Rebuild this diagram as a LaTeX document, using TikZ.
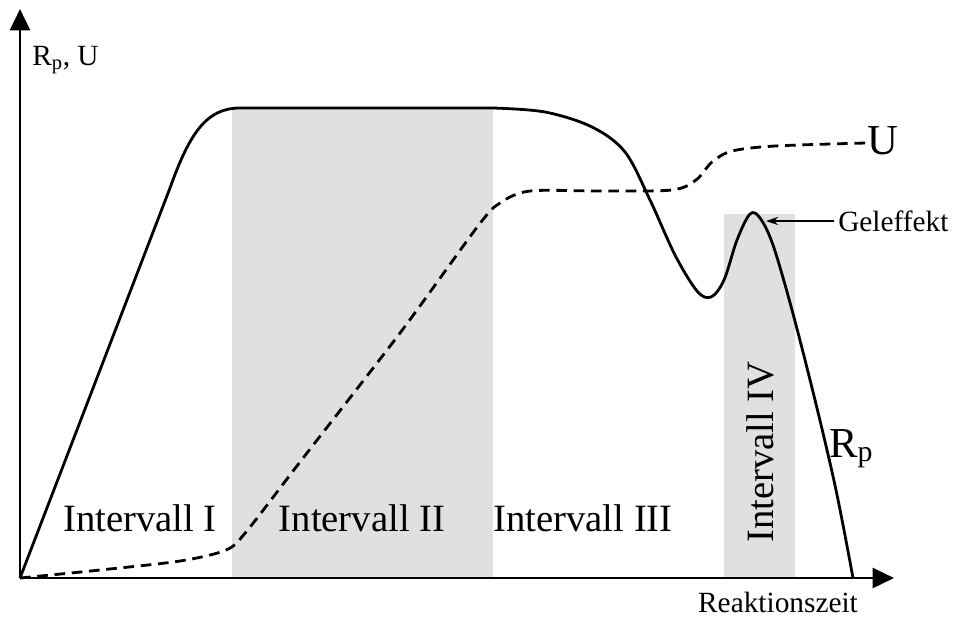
\documentclass[tikz,border=0pt]{standalone}
\usepackage{fontspec}
\setmainfont{Liberation Serif}
\usetikzlibrary{arrows.meta}
\begin{document}
\begin{tikzpicture}[x=0.75pt,y=-0.75pt,
  axisline/.style={line width=1.9pt,-{Triangle[length=16pt,width=15pt]}},
  curveline/.style={line width=2.1pt,line join=round},
  dashline/.style={line width=2.1pt,dash pattern=on 8pt off 5pt},
  region/.style={fill=black!12,draw=none},
  ilabel/.style={font=\fontsize{29}{30}\selectfont,inner sep=0pt},
  small/.style={font=\fontsize{22}{24}\selectfont,inner sep=0pt},
  big/.style={font=\fontsize{32}{33}\selectfont,inner sep=0pt}]
\useasboundingbox (0,0) rectangle (956,619);
% shaded intervals
\fill[region] (232,108) rectangle (493,578);
\fill[region] (724,214) rectangle (795,578);
% axes
\coordinate (O) at (20,578);
\coordinate (ytip) at (20,9);
\coordinate (xtip) at (894,578);
\draw[axisline] (O) -- (ytip);
\draw[axisline] (O) -- (xtip);
% R_p curve
\draw[curveline] (O) -- (170,188) .. controls (190,132) and (207,108) .. (240,108) -- (493,108)
  plot[smooth,tension=0.55] coordinates {(493,108) (545,112) (592,127) (625,152) (650,200) (675,255) (697,291) (711,297) (724,280) (737,240) (750,214) (760,218) (773,245) (792,310) (815,400) (836,490) (853,578)};
% U curve
\draw[dashline] plot[smooth,tension=0.5] coordinates {(O) (100,570) (180,561) (226,550) (246,532) (300,462) (400,333) (478,226) (500,203) (530,191) (600,191) (672,190) (696,180) (712,162) (732,151) (775,146) (866,143)};
% labels
\node[ilabel] (i1) at (140,518) {Intervall I};
\node[ilabel] (i2) at (362,518) {Intervall II};
\node[ilabel] (i3) at (583,518) {Intervall III};
\node[ilabel,rotate=90] (i4) at (760,452) {Intervall IV};
\node[big,anchor=base west] (rp) at (829,457) {R\textsubscript{p}};
\node[big] (u) at (883,141) {U};
\node[small,anchor=west] (gel) at (838,221) {Geleffekt};
\coordinate (peak) at (766,221);
\draw[line width=1pt,-{Stealth[length=9pt,width=6pt]}] (gel.west) ++(-4,0) -- (peak);
\node[small,anchor=base] (rz) at (778,612) {Reaktionszeit};
\node[small,anchor=west] (yl) at (32,60) {R\textsubscript{p}, U};
\end{tikzpicture}
\end{document}
